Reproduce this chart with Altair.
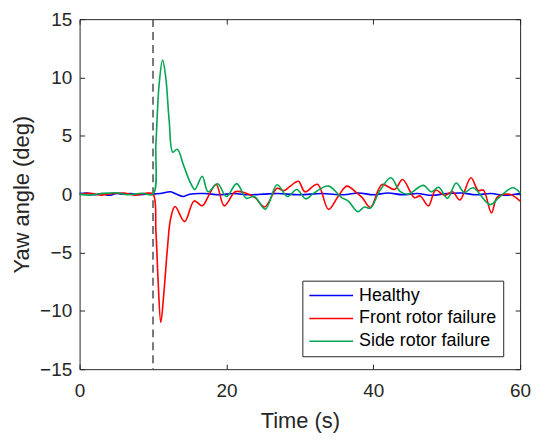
import altair as alt
import pandas as pd

# ---- data ----
healthy_t = [0, 1, 2, 3, 4, 5, 6, 7, 8, 9, 10, 11, 12.4, 13.2, 14.1, 15, 17, 19, 21, 23, 25, 27, 30,
             33, 36, 38, 40, 42, 44, 46, 48, 50, 52, 54, 56, 58, 60]
healthy_v = [0.05, 0.1, -0.05, 0.05, -0.1, 0.05, 0, 0.05, -0.05, 0, 0, 0.05, 0.2, 0, -0.2, 0, 0.05, -0.05,
             0.05, -0.05, 0, 0.05, -0.05, 0.05, -0.05, 0.1, -0.05, 0.1, -0.05, 0.05, -0.1, 0.05, 0.1,
             -0.05, 0.05, -0.1, 0.05]

front_t = [0, 1.5, 3, 4.5, 6, 7.5, 9, 10, 10.4, 10.7, 11.06, 11.5, 11.96, 12.4, 13.0, 14.3, 15.6, 16.7,
           17.6, 18.6, 19.7, 21.2, 22.4, 23.9, 25.2, 26.9, 27.8, 28.7, 29.8, 30.7, 32.4, 33.9, 35.2,
           36.4, 37.7, 38.5, 39.6, 41.2, 42.9, 44.0, 45.6, 46.4, 47.5, 48.5, 49.7, 50.8, 51.8, 53.3,
           54.3, 55.0, 56.1, 56.9, 58.6, 60]
front_v = [0, 0.08, -0.08, 0.05, 0.1, -0.08, 0.08, 0, -3.25, -7.5, -11.0, -8.3, -4.67, -2.1, -1.06, -2.35,
           -0.58, -1.0, -0.1, 0.85, -1.0, 0.2, 0.15, -0.3, -1.1, 0.5, 0.3, 0.69, 1.1, 0.2, 0.85, -1.3,
           -0.2, 0.69, 0.13, -0.3, -1.14, 0.83, 0.4, 1.25, -0.3, -0.15, -1.0, 0.35, -0.1, 0.2, -0.5,
           1.4, 0.3, 0.35, -1.6, -0.25, 0, -0.6]

side_t = [0, 1.5, 3, 5, 6.5, 8.5, 10, 10.4, 10.83, 11.3, 11.74, 12.2, 12.7, 13.3, 14.2, 15.1, 15.7, 16.7,
          17.5, 18.8, 20.0, 21.4, 22.7, 23.8, 25.3, 26.9, 28.3, 29.6, 30.8, 32.0, 33.9, 35.7, 36.6,
          37.9, 38.8, 39.6, 40.9, 42.4, 43.6, 44.7, 46.8, 47.9, 48.9, 50.1, 51.3, 52.4, 53.6, 55.9,
          57.1, 59.0, 60]
side_v = [0, -0.08, 0.05, 0.12, -0.05, 0.08, 0, 4.35, 9.4, 11.5, 10.0, 6.3, 3.6, 3.85, 2.4, 0.97, 0.4, 1.54,
          0.2, 0.89, -0.2, 0.9, -0.35, -0.2, -1.28, 0.8, -0.2, 0.4, -0.4, 0.13, 0.69, -0.3, -0.6,
          -1.5, -1.1, -1.2, 0.3, 1.4, 0.27, 0, 0.75, 0.2, 0.6, -0.35, 0.95, 0.15, 0.55, -0.9,
          -0.3, 0.55, 0.1]

series_names = ["Healthy", "Front rotor failure", "Side rotor failure"]
series_colors = ["#0000FF", "#FF0000", "#00A651"]
fault_time = [10]
x_ticks = [0, 20, 40, 60]
y_ticks = [-15, -10, -5, 0, 5, 10, 15]

FONT = "Liberation Sans"
AX = "#262626"


def frame(name, t, v):
    return pd.DataFrame({"t": t, "v": v, "series": name})


lines_df = pd.concat([frame(series_names[0], healthy_t, healthy_v),
                      frame(series_names[1], front_t, front_v),
                      frame(series_names[2], side_t, side_v)], ignore_index=True)

color = alt.Color("series:N",
                  scale=alt.Scale(domain=series_names, range=series_colors),
                  legend=alt.Legend(title=None, orient="none", legendX=224, legendY=263,
                                    fillColor="white", strokeColor=AX, padding=6,
                                    symbolType="M-1,0H1", symbolSize=1936, symbolStrokeWidth=1.5,
                                    clipHeight=18,
                                    labelFontSize=18, labelFont=FONT, labelColor="black",
                                    labelOffset=5, rowPadding=5, cornerRadius=0))

xscale = alt.Scale(domain=[0, 60], nice=False, zero=False)
yscale = alt.Scale(domain=[-15, 15], nice=False, zero=False)

lines = alt.Chart(lines_df).mark_line(strokeWidth=1.6, interpolate="catmull-rom").encode(
    x=alt.X("t:Q", scale=xscale,
            axis=alt.Axis(values=x_ticks, title="Time (s)", offset=-5, domain=False, tickSize=5,
                          grid=False, labelPadding=12, titlePadding=11, format="d",
                          labelFlush=False)),
    y=alt.Y("v:Q", scale=yscale,
            axis=alt.Axis(values=y_ticks, title="Yaw angle (deg)", offset=-5, domain=False,
                          tickSize=5, grid=False, labelPadding=8, titlePadding=6, format="d",
                          labelFlush=False)),
    color=color,
    detail="series:N",
)

fault = alt.Chart(pd.DataFrame({"t": fault_time})).mark_rule(
    color="#4d4d4d", strokeWidth=1.5, strokeDash=[8, 5]).encode(
    x=alt.X("t:Q", scale=xscale, axis=None))

# box ticks (top and right), drawn through the shared scales
frame_ticks = alt.Chart(frame(series_names[0], healthy_t, healthy_v)).mark_point(opacity=0).encode(
    x=alt.X("t:Q", scale=xscale,
            axis=alt.Axis(orient="top", values=x_ticks, labels=False, title=None, offset=-5,
                          domain=False, tickSize=5, grid=False)),
    y=alt.Y("v:Q", scale=yscale,
            axis=alt.Axis(orient="right", values=y_ticks, labels=False, title=None, offset=-5,
                          domain=False, tickSize=5, grid=False)))

chart = alt.layer(fault, lines, frame_ticks).resolve_axis(
    x="independent", y="independent"
).properties(
    width=443, height=352,
    padding={"left": 72, "top": 10, "right": 20, "bottom": 68},
    autosize="none",
).configure_view(
    stroke=AX, strokeWidth=1
).configure_axis(
    labelFont=FONT, titleFont=FONT, labelFontSize=19, titleFontSize=22,
    labelColor=AX, titleColor=AX, tickColor=AX, titleFontWeight="normal"
)

chart.save("out.html", embed_options={"renderer": "svg", "actions": False})
